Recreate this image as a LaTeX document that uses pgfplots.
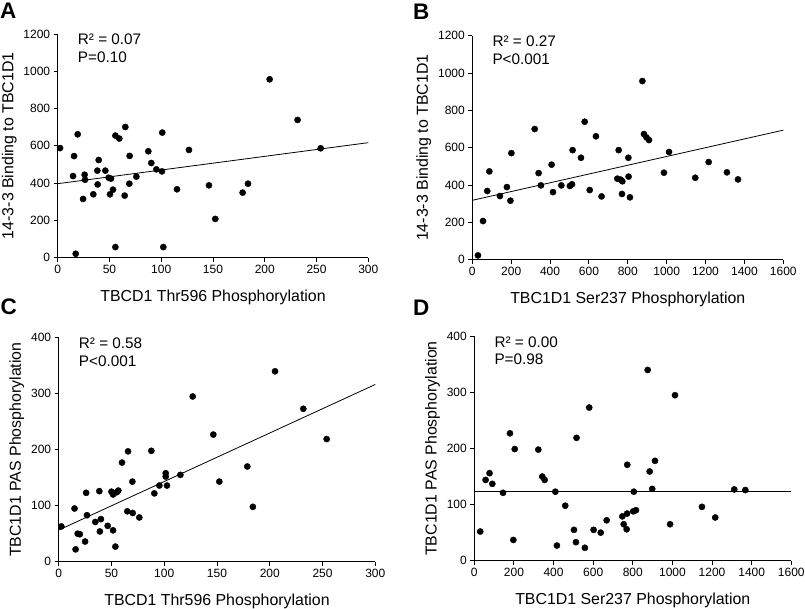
\documentclass[border=0pt]{standalone}
\usepackage{fontspec}
\setmainfont{Liberation Sans}
\usepackage{pgfplots}
\pgfplotsset{compat=1.18}
\pgfplotsset{
  panel/.style={
    scale only axis,
    axis x line*=bottom, axis y line*=left,
    axis line style={black, line width=0.9pt, -},
    tick align=outside, major tick length=4pt,
    tick style={black, line width=0.9pt},
    ticklabel style={font=\fontsize{12}{14}\selectfont},
    label style={font=\fontsize{15.9}{18}\selectfont},
    xlabel style={at={(axis description cs:0.5,0)}, anchor=base, yshift=-44pt},
    /pgf/number format/assume math mode=true,
    /pgf/number format/1000 sep={},
    scaled ticks=false,
    xmin=0, ymin=0, clip=false,
  },
  dots/.style={only marks, mark=*, mark size=3.1pt, mark options={fill=black, draw=black}},
  fit/.style={black, line width=0.8pt, no marks},
}
\newcommand{\stat}[1]{\node[anchor=north west, inner sep=0pt, align=left, font=\fontsize{15.3}{17.6}\selectfont] at (rel axis cs:0,1) [xshift=20pt] {#1};}
\begin{document}
\begin{tikzpicture}
\path[use as bounding box] (0pt,0pt) rectangle (805pt,609pt);
\node[anchor=base west, inner sep=0pt, font=\fontsize{22.5}{24}\selectfont\bfseries] at (0pt,590pt) {A};
\node[anchor=base west, inner sep=0pt, font=\fontsize{22.5}{24}\selectfont\bfseries] at (413pt,589pt) {B};
\node[anchor=base west, inner sep=0pt, font=\fontsize{22.5}{24}\selectfont\bfseries] at (0.5pt,294pt) {C};
\node[anchor=base west, inner sep=0pt, font=\fontsize{22.5}{24}\selectfont\bfseries] at (413pt,293pt) {D};

% Panel A
\begin{axis}[panel, at={(57.7pt,351.3pt)}, anchor=south west, width=310.6pt, height=223.7pt,
  xmax=300, ymax=1200, xtick={0,50,...,300}, ytick={0,200,...,1200},
  xlabel={TBCD1 Thr596 Phosphorylation}, ylabel={14-3-3 Binding to TBC1D1}]
\addplot[dots] table {
2.3 588
15.8 545
14.8 438
19.3 662
17.4 21
26 445
26.4 418
24.5 315
34.4 340
38.3 467
38.6 393
39.6 524
46 467
49.2 429
51.5 424
50.5 340
53.4 365
55.7 655
59.5 639
55.7 57
65.3 701
64.7 333
69.5 546
69.2 397
76 435
87.5 571
90.4 508
95.3 474
101 671
100.7 463
102 57
115.2 367
126.8 578
146.1 388
152.2 208
178.6 349
183.8 397
204.7 957
231.7 739
254 587
};
\addplot[fit] coordinates {(0,397) (300,617)};
\stat{R² = 0.07\\P=0.10}
\end{axis}

% Panel B
\begin{axis}[panel, at={(472.3pt,349.3pt)}, anchor=south west, width=311pt, height=224pt,
  xmax=1600, ymax=1200, xtick={0,200,...,1600}, ytick={0,200,...,1200},
  xlabel={TBC1D1 Ser237 Phosphorylation}, ylabel={14-3-3 Binding to TBC1D1}]
\addplot[dots] table {
29 23
55 207
77 368
87.5 473
142 341
178 389
196 316
201 571
321 700
341 464
353 398
408 509
415 362
458 398
502 395
513 404
516 587
559 546
578 739
604 373
636 661
665 339
746 434
753 587
763 429
772 420
770 352
804 445
803 546
811 334
875 957
883 673
896 655
909 641
986 466
1012 577
1147 439
1216 523
1310 468
1367 430
};
\addplot[fit] coordinates {(0,318) (1600,694)};
\stat{R² = 0.27\\P<0.001}
\end{axis}

% Panel C
\begin{axis}[panel, at={(58.7pt,47.3pt)}, anchor=south west, width=316.6pt, height=224pt,
  xmax=300, ymax=400, xtick={0,50,...,300}, ytick={0,100,...,400},
  xlabel={TBCD1 Thr596 Phosphorylation}, ylabel={TBC1D1 PAS Phosphorylation}]
\addplot[dots] table {
2.5 63
15 95
16 22
18 50
20 49
25 36
26 123
26.8 83
34.7 71
38.5 126
39 54
40 76
46.4 64
50 125
51.5 120
51.5 56
53.7 27
55 124
56.5 127
60 177
65 90
65.7 197
69.8 143
70.1 87
76.4 79
87.8 198
90.6 122
95.4 136
101.4 158
101.4 152
102.6 136
115.3 155
127 295
146.5 227
152.2 143
178.7 170
184 98
205 340
231.8 273
253.9 219
};
\addplot[fit] coordinates {(0,56.5) (300,316.5)};
\stat{R² = 0.58\\P<0.001}
\end{axis}

% Panel D
\begin{axis}[panel, at={(474.3pt,48.3pt)}, anchor=south west, width=317pt, height=224.4pt,
  xmax=1600, ymax=400, xtick={0,200,...,1600}, ytick={0,100,...,400},
  xlabel={TBC1D1 Ser237 Phosphorylation}, ylabel={TBC1D1 PAS Phosphorylation}]
\addplot[dots] table {
30 52
57 144
77 156
91 137
145 121
180 227
197 37
204 199
323 198
343 150
355 144
409 123
417 27
459 98
503 55
513 33
516 219
558 23
580 273
602 55
638 50
668 72
747 79
754 65
771 84
769 56
772 171
802 88
805 123
816 90
875 340
885 159
898 128
912 178
988 65
1013 295
1149 96
1216 77
1312 127
1368 126
};
\addplot[fit] coordinates {(0,123.5) (1600,123.5)};
\stat{R² = 0.00\\P=0.98}
\end{axis}
\end{tikzpicture}
\end{document}
